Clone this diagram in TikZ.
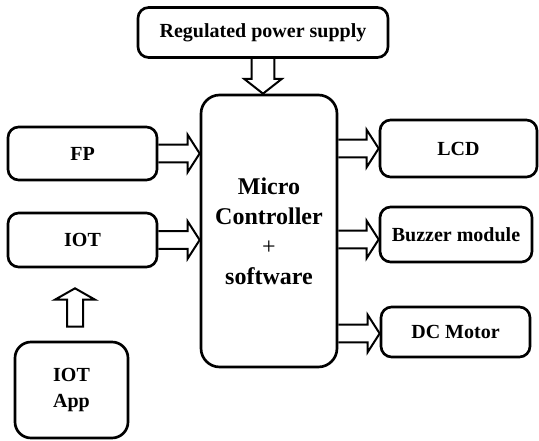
\documentclass[tikz,border=0pt]{standalone}
\usepackage{fontspec}
\setmainfont{Liberation Serif}
\usetikzlibrary{calc,backgrounds}
\tikzset{
  box/.style={draw, line width=2pt, rounded corners=8pt, fill=none, align=center,
    font=\bfseries\fontsize{15}{19}\selectfont, inner sep=0pt},
  blockarr/.style={draw, line width=1.5pt, fill=white, line join=miter},
}
\newcommand\rarrow[2]{\draw[blockarr] let \p1=(#1), \p2=(#2) in
  (\x1,\y1+6.6pt) -- (\x2-9pt,\y1+6.6pt) -- (\x2-9pt,\y1+14pt) -- (\x2,\y1)
  -- (\x2-9pt,\y1-14pt) -- (\x2-9pt,\y1-6.6pt) -- (\x1,\y1-6.6pt);}
\newcommand\darrow[2]{\draw[blockarr] let \p1=(#1), \p2=(#2) in
  (\x1-8.6pt,\y1) -- (\x1-8.6pt,\y2+11pt) -- (\x1-14pt,\y2+11pt) -- (\x1,\y2)
  -- (\x1+14pt,\y2+11pt) -- (\x1+8.6pt,\y2+11pt) -- (\x1+8.6pt,\y1);}
\newcommand\uarrow[2]{\draw[blockarr] let \p1=(#1), \p2=(#2) in
  (\x1-6pt,\y1) -- (\x1-6pt,\y2-8.5pt) -- (\x1-15pt,\y2-8.5pt) -- (\x2,\y2)
  -- (\x1+15pt,\y2-8.5pt) -- (\x1+6pt,\y2-8.5pt) -- (\x1+6pt,\y1) -- cycle;}
\begin{document}
\begin{tikzpicture}[x=0.75pt,y=-0.75pt]
\useasboundingbox (0,0) rectangle (539,441);
\node[box, minimum width=250*0.75pt, minimum height=50*0.75pt] (psu) at (263,32.5) {Regulated power supply};
\node[box, rounded corners=14pt, minimum width=136*0.75pt, minimum height=272*0.75pt,
  font=\bfseries\fontsize{18}{22.5}\selectfont] (mc) at (269,231) {Micro\\Controller\\{\mdseries +}\\software};
\node[box, minimum width=149*0.75pt, minimum height=53*0.75pt] (fp) at (82.5,153.5) {FP};
\node[box, minimum width=149*0.75pt, minimum height=54*0.75pt] (iot) at (82.5,240) {IOT};
\node[box, rounded corners=12pt, minimum width=113*0.75pt, minimum height=96*0.75pt] (app) at (71.5,390) {IOT\\App};
\node[box, minimum width=157*0.75pt, minimum height=57*0.75pt] (lcd) at (458.5,148.5) {LCD};
\node[box, minimum width=152*0.75pt, minimum height=55*0.75pt] (buz) at (456,234.5) {Buzzer module};
\node[box, minimum width=149*0.75pt, minimum height=50*0.75pt] (dcm) at (455.5,332) {DC Motor};
\coordinate (buzin) at ($(buz.west)+(0,5)$);
\coordinate (dcin) at ($(dcm.west)+(0,1.5)$);
\coordinate (upS) at ($(app.north)+(3.5,-14)$);
\coordinate (upE) at ($(iot.south)+(-7.5,20)$);
\begin{pgfonlayer}{background}
\darrow{psu.south}{psu.south |- mc.north}
\rarrow{fp.east}{fp.east -| mc.west}
\rarrow{iot.east}{iot.east -| mc.west}
\rarrow{lcd.west -| mc.east}{lcd.west}
\rarrow{buzin -| mc.east}{buzin}
\rarrow{dcin -| mc.east}{dcin}
\end{pgfonlayer}
\uarrow{upS}{upS |- upE}
\end{tikzpicture}
\end{document}
